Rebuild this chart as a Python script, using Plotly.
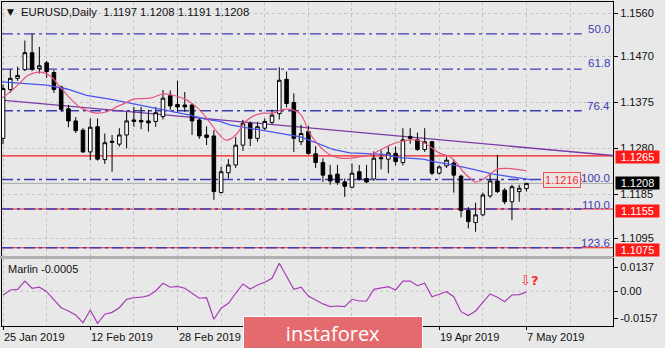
import pandas as pd
import plotly.graph_objects as go

# ---------------- data ----------------
dates = pd.bdate_range("2019-01-25", "2019-05-07")

opens = [1.1301, 1.1402, 1.1425, 1.1443, 1.1478, 1.1445, 1.1457, 1.1437, 1.1407, 1.1362,
         1.1337, 1.1318, 1.1273, 1.1325, 1.1257, 1.1295, 1.1289, 1.1308, 1.1339, 1.1338,
         1.1337, 1.1336, 1.1346, 1.1389, 1.1371, 1.1370, 1.1370, 1.1339, 1.1308, 1.1306,
         1.1189, 1.1230, 1.1246, 1.1287, 1.1332, 1.1301, 1.1322, 1.1334, 1.1352, 1.1423,
         1.1375, 1.1294, 1.1315, 1.1269, 1.1251, 1.1225, 1.1227, 1.1211, 1.1200, 1.1232,
         1.1218, 1.1217, 1.1261, 1.1258, 1.1270, 1.1251, 1.1305, 1.1298, 1.1278, 1.1294,
         1.1229, 1.1244, 1.1250, 1.1223, 1.1152, 1.1127, 1.1143, 1.1182, 1.1213, 1.1194,
         1.1170, 1.1191, 1.1197]
highs = [1.1412, 1.1444, 1.1449, 1.1503, 1.1517, 1.1490, 1.1461, 1.1442, 1.1410, 1.1370,
         1.1345, 1.1322, 1.1342, 1.1342, 1.1311, 1.1308, 1.1322, 1.1356, 1.1366, 1.1366,
         1.1360, 1.1366, 1.1401, 1.1400, 1.1420, 1.1397, 1.1372, 1.1342, 1.1326, 1.1318,
         1.1242, 1.1258, 1.1304, 1.1339, 1.1336, 1.1335, 1.1342, 1.1360, 1.1448, 1.1439,
         1.1394, 1.1329, 1.1327, 1.1285, 1.1260, 1.1246, 1.1246, 1.1218, 1.1249, 1.1246,
         1.1246, 1.1274, 1.1276, 1.1284, 1.1284, 1.1322, 1.1322, 1.1313, 1.1322, 1.1296,
         1.1245, 1.1263, 1.1258, 1.1226, 1.1159, 1.1168, 1.1189, 1.1229, 1.1267, 1.1198,
         1.1205, 1.1205, 1.1208]
lows = [1.1289, 1.1395, 1.1420, 1.1440, 1.1440, 1.1435, 1.1426, 1.1395, 1.1356, 1.1324,
        1.1312, 1.1271, 1.1256, 1.1255, 1.1248, 1.1232, 1.1284, 1.1280, 1.1325, 1.1320,
        1.1315, 1.1325, 1.1340, 1.1360, 1.1356, 1.1356, 1.1308, 1.1300, 1.1287, 1.1174,
        1.1187, 1.1218, 1.1240, 1.1275, 1.1285, 1.1294, 1.1318, 1.1330, 1.1340, 1.1365,
        1.1273, 1.1287, 1.1267, 1.1240, 1.1211, 1.1205, 1.1205, 1.1180, 1.1198, 1.1214,
        1.1209, 1.1213, 1.1237, 1.1229, 1.1245, 1.1245, 1.1290, 1.1275, 1.1273, 1.1225,
        1.1226, 1.1240, 1.1189, 1.1138, 1.1115, 1.1108, 1.1140, 1.1178, 1.1188, 1.1165,
        1.1132, 1.1170, 1.1191]
closes = [1.1404, 1.1425, 1.1431, 1.1478, 1.1444, 1.1451, 1.1439, 1.1402, 1.1361, 1.1337,
          1.1317, 1.1273, 1.1324, 1.1258, 1.1292, 1.1293, 1.1308, 1.1337, 1.1336, 1.1335,
          1.1333, 1.1354, 1.1384, 1.1368, 1.1366, 1.1366, 1.1337, 1.1306, 1.1303, 1.1191,
          1.1232, 1.1246, 1.1287, 1.1332, 1.1301, 1.1325, 1.1336, 1.1349, 1.1421, 1.1373,
          1.1301, 1.1311, 1.1270, 1.1251, 1.1225, 1.1213, 1.1210, 1.1202, 1.1229, 1.1217,
          1.1211, 1.1260, 1.1259, 1.1271, 1.1253, 1.1298, 1.1301, 1.1278, 1.1294, 1.1229,
          1.1242, 1.1256, 1.1225, 1.1152, 1.1129, 1.1143, 1.1184, 1.1213, 1.1191, 1.1170,
          1.1201, 1.1198, 1.1208]

marlin = [-0.0022, 0.0007, 0.0011, 0.0059, 0.0017, 0.0023, -0.0003, -0.0047, -0.0096, -0.0115,
          -0.0138, -0.0183, -0.0109, -0.0187, -0.0134, -0.0123, -0.0096, -0.0047, -0.0038, -0.0035,
          -0.0026, 0.0001, 0.0046, 0.0023, 0.0028, 0.0017, -0.0012, -0.0041, -0.0038, -0.0163,
          -0.0099, -0.0070, -0.0012, 0.0042, 0.0013, 0.0036, 0.0052, 0.0075, 0.0162, 0.0090,
          0.0011, 0.0023, -0.0028, -0.0051, -0.0074, -0.0090, -0.0086, -0.0090, -0.0047, -0.0057,
          -0.0057, 0.0011, 0.0017, 0.0026, 0.0007, 0.0059, 0.0059, 0.0032, 0.0046, -0.0032,
          -0.0018, -0.0003, -0.0032, -0.0119, -0.0142, -0.0115, -0.0065, -0.0016, -0.0035, -0.0061,
          -0.0022, -0.0020, -0.0005]

# moving averages, sampled along the bar axis
ma_fast_bar = [-0.4, 1.0, 2.3, 3.3, 5.1, 6.5, 7.8, 9.2, 10.6, 12.0, 12.9, 14.3, 15.6, 17.0,
               17.9, 20.2, 22.1, 23.4, 25.3, 26.6, 28.0, 29.4, 30.5, 31.2, 32.2, 33.3, 34.4,
               35.8, 37.2, 38.3, 39.5, 40.9, 42.2, 43.6, 45.0, 46.4, 47.7, 49.1, 50.5, 51.9,
               53.2, 54.6, 56.0, 57.4, 58.7, 60.1, 61.5, 62.4, 63.3, 64.2, 64.9, 65.9, 66.8,
               67.9, 69.3, 70.7, 72.0]
ma_fast_val = [1.1382, 1.1397, 1.1415, 1.1430, 1.1438, 1.1430, 1.1408, 1.1384, 1.1365, 1.1356,
               1.1353, 1.1356, 1.1366, 1.1375, 1.1382, 1.1384, 1.1393, 1.1390, 1.1380, 1.1366,
               1.1343, 1.1315, 1.1298, 1.1299, 1.1311, 1.1335, 1.1347, 1.1353, 1.1353, 1.1360,
               1.1361, 1.1351, 1.1311, 1.1284, 1.1267, 1.1260, 1.1260, 1.1263, 1.1267, 1.1277,
               1.1287, 1.1294, 1.1298, 1.1296, 1.1284, 1.1270, 1.1263, 1.1250, 1.1232, 1.1219,
               1.1211, 1.1215, 1.1225, 1.1237, 1.1239, 1.1237, 1.1234]
ma_slow_bar = [-0.4, 2.3, 6.0, 8.8, 11.5, 14.7, 17.9, 22.1, 25.7, 28.0, 29.9, 31.2, 33.5,
               35.8, 38.1, 40.9, 43.2, 45.4, 47.7, 50.0, 52.3, 54.6, 57.8, 59.2, 61.9, 64.7,
               67.4, 70.2, 72.8]
ma_slow_val = [1.1418, 1.1415, 1.1411, 1.1403, 1.1390, 1.1382, 1.1372, 1.1360, 1.1349, 1.1340,
               1.1336, 1.1329, 1.1323, 1.1317, 1.1311, 1.1304, 1.1291, 1.1278, 1.1271, 1.1270,
               1.1268, 1.1261, 1.1258, 1.1253, 1.1246, 1.1237, 1.1227, 1.1221, 1.1215]

trend_bar = [-0.14, 83.9]
trend_val = [1.1380, 1.12656]

fib_names = ["50.0", "61.8", "76.4", "100.0", "110.0", "123.6"]
fib_levels = [1.1517, 1.1444, 1.1358, 1.1216, 1.1155, 1.1075]
fib_end_bar = 79.6
red_levels = [1.1265, 1.1155, 1.1075]

price_ticks = [1.1560, 1.1470, 1.1375, 1.1280, 1.1185, 1.1095]
osc_ticks = [0.0137, 0.0, -0.0157]
osc_tick_text = ["0.0137", "0.00", "-0.0157"]
tick_dates = ["2019-01-25", "2019-02-12", "2019-02-28", "2019-03-18",
              "2019-04-03", "2019-04-19", "2019-05-07"]
# dates whose labels are printed (the others sit under the logo)
label_dates = ["2019-01-25", "2019-02-12", "2019-02-28", "2019-04-19", "2019-05-07"]

# ---------------- geometry helpers ----------------
W, H = 665, 348
L, R, T, B = 2, 613, 2, 326          # plot area in pixels
X_RANGE = [-0.14, 83.9]
Y_RANGE = [1.105793, 1.158273]
OSC_RANGE = [-0.02023, 0.01872]
MAIN_BOTTOM, OSC_TOP = 256, 259


def xp(px):
    return (px - L) / (R - L)


def yp(py):
    return (B - py) / (B - T)


FONT = "Liberation Sans, Arial, sans-serif"
bars = list(range(len(dates)))
tick_bars = [dates.get_loc(pd.Timestamp(d)) for d in tick_dates]
label_bars = [dates.get_loc(pd.Timestamp(d)) for d in label_dates]
label_text = [f"{pd.Timestamp(d).day} {pd.Timestamp(d).strftime('%b %Y')}" for d in label_dates]
grid_bars = list(range(0, 85, 6))
minor_bars = [b for b in grid_bars if b not in tick_bars]

fig = go.Figure()

fig.add_trace(go.Candlestick(
    x=bars, open=opens, high=highs, low=lows, close=closes,
    increasing=dict(line=dict(color="black", width=1), fillcolor="white"),
    decreasing=dict(line=dict(color="black", width=1), fillcolor="black"),
    whiskerwidth=0, showlegend=False, hoverinfo="skip", xaxis="x", yaxis="y"))

fig.add_trace(go.Scatter(x=ma_slow_bar, y=ma_slow_val, mode="lines",
                         line=dict(color="#4a55f0", width=1.3), showlegend=False,
                         hoverinfo="skip", xaxis="x", yaxis="y"))
fig.add_trace(go.Scatter(x=ma_fast_bar, y=ma_fast_val, mode="lines", line_shape="spline",
                         line=dict(color="#e8557a", width=1.2), showlegend=False,
                         hoverinfo="skip", xaxis="x", yaxis="y"))

fig.add_trace(go.Scatter(x=bars, y=marlin, mode="lines",
                         line=dict(color="#a63fb5", width=1.2), showlegend=False,
                         hoverinfo="skip", xaxis="x2", yaxis="y2"))

shapes = []
# current price line
shapes.append(dict(type="line", xref="paper", yref="y", x0=0, x1=1,
                   y0=closes[-1], y1=closes[-1], layer="between",
                   line=dict(color="#a8a8a8", width=1)))
# horizontal support / resistance lines
for lv in red_levels:
    shapes.append(dict(type="line", xref="paper", yref="y", x0=0, x1=1, y0=lv, y1=lv,
                       layer="between", line=dict(color="#ff1a1a", width=1.2)))
# fibonacci levels
for lv in fib_levels:
    shapes.append(dict(type="line", xref="x", yref="y", x0=X_RANGE[0], x1=fib_end_bar,
                       y0=lv, y1=lv, layer="between",
                       line=dict(color="#3c3cb4", width=1.3, dash="11px,4px,3px,4px")))
# trend line
shapes.append(dict(type="line", xref="x", yref="y", x0=trend_bar[0], x1=trend_bar[1],
                   y0=trend_val[0], y1=trend_val[1], layer="between",
                   line=dict(color="#7b3aa8", width=1.3)))
# oscillator zero grid line
shapes.append(dict(type="line", xref="paper", yref="y2", x0=0, x1=1, y0=0, y1=0,
                   layer="below", line=dict(color="#c4c4c4", width=1, dash="3px,3px")))
# separator between panels
shapes.append(dict(type="rect", xref="paper", yref="paper", x0=-0.01, x1=1.0,
                   y0=yp(OSC_TOP), y1=yp(MAIN_BOTTOM), layer="above",
                   fillcolor="#b0b0b0", line=dict(width=0)))

ann = []
title_vals = " ".join(f"{v:.4f}" for v in (opens[-1], highs[-1], lows[-1], closes[-1]))
ann.append(dict(text="▼", x=xp(5), y=yp(12), xanchor="left", yanchor="middle",
                font=dict(size=9, color="#111111", family="DejaVu Sans")))
ann.append(dict(text=f"EURUSD,Daily  {title_vals}", x=xp(19), y=yp(12),
                xanchor="left", yanchor="middle", font=dict(size=11.3, color="#111111")))
ann.append(dict(text=f"Marlin {marlin[-1]:.4f}", x=xp(6), y=yp(269),
                xanchor="left", yanchor="middle", font=dict(size=11, color="#111111")))

fib_label_y = [29, 62.5, 106, 178, 204.5, 243]
for name, py in zip(fib_names, fib_label_y):
    ann.append(dict(text=name, x=xp(612), y=yp(py), xanchor="right", yanchor="middle",
                    font=dict(size=11.5, color="#3c3cb4")))

# price label placed on the chart
ann.append(dict(text=f"{fib_levels[3]:.4f}", x=xp(543), y=yp(180), xanchor="left",
                yanchor="middle", bgcolor="#ece4e4", bordercolor="#f05050",
                borderwidth=1, borderpad=1, font=dict(size=11, color="#f03030")))

# right-hand price boxes (nudged slightly downward like the terminal draws them)
box_shift = [-1, -1.5, -2.5]
for lv, sh in zip(red_levels, box_shift):
    ann.append(dict(text=f"{lv:.4f}", x=xp(615), y=lv, yref="y", xanchor="left",
                    yanchor="middle", yshift=sh, bgcolor="#ff1a1a", width=43, height=12,
                    borderpad=0, font=dict(size=11, color="white")))
ann.append(dict(text=f"{closes[-1]:.4f}", x=xp(615), y=closes[-1], yref="y",
                xanchor="left", yanchor="middle", bgcolor="#000000", width=43, height=12,
                borderpad=0, font=dict(size=11, color="white")))

ann.append(dict(text="⇩<b>?</b>", x=xp(518), y=yp(280), xanchor="left", yanchor="middle",
                font=dict(size=13, color="#ff2a2a", family="DejaVu Sans")))

for b, t in zip(label_bars, label_text):
    ann.append(dict(text=t, x=b, xref="x2", y=yp(337), xanchor="left", xshift=-1,
                    yanchor="middle", font=dict(size=11, color="#111111")))

ann.append(dict(text="instaforex", x=xp(333), y=yp(315.5), xanchor="center", yanchor="top",
                width=178, height=32, bgcolor="#e36a6d", bordercolor="#ffffff",
                borderwidth=1, borderpad=0,
                font=dict(size=20, color="white", family="Open Sans")))

for a in ann:
    a.setdefault("xref", "paper")
    a.setdefault("yref", "paper")
    a["showarrow"] = False

axis_common = dict(showline=True, linecolor="#000000", linewidth=1, mirror=True,
                   zeroline=False)

fig.update_layout(
    width=W, height=H,
    margin=dict(l=L, r=W - R, t=T, b=H - B),
    paper_bgcolor="#e8e8e8", plot_bgcolor="#e8e8e8",
    font=dict(family=FONT, size=11, color="#111111"),
    showlegend=False,
    xaxis=dict(domain=[0, 1], range=X_RANGE, anchor="y", tickvals=grid_bars,
               showticklabels=False, ticks="", showgrid=True, gridcolor="#c4c4c4",
               griddash="3px,3px", rangeslider=dict(visible=False), **axis_common),
    yaxis=dict(domain=[yp(MAIN_BOTTOM), 1], range=Y_RANGE, side="right", anchor="x",
               tickvals=price_ticks, ticktext=[f"{v:.4f}" for v in price_ticks],
               ticks="outside", ticklen=4, tickcolor="#000000",
               showgrid=True, gridcolor="#c4c4c4", griddash="3px,3px", **axis_common),
    xaxis2=dict(domain=[0, 1], range=X_RANGE, anchor="y2", matches="x",
                tickvals=tick_bars, showticklabels=False, ticks="outside", ticklen=3,
                tickcolor="#000000", showgrid=True, gridcolor="#c4c4c4",
                griddash="3px,3px",
                minor=dict(tickvals=minor_bars, showgrid=True, gridcolor="#c4c4c4",
                           griddash="3px,3px", ticks=""),
                **axis_common),
    yaxis2=dict(domain=[0, yp(OSC_TOP)], range=OSC_RANGE, side="right", anchor="x2",
                tickvals=osc_ticks, ticktext=osc_tick_text, ticks="outside", ticklen=4,
                tickcolor="#000000", showgrid=False, **axis_common),
    shapes=shapes,
    annotations=ann,
)

fig.write_html("out.html")
